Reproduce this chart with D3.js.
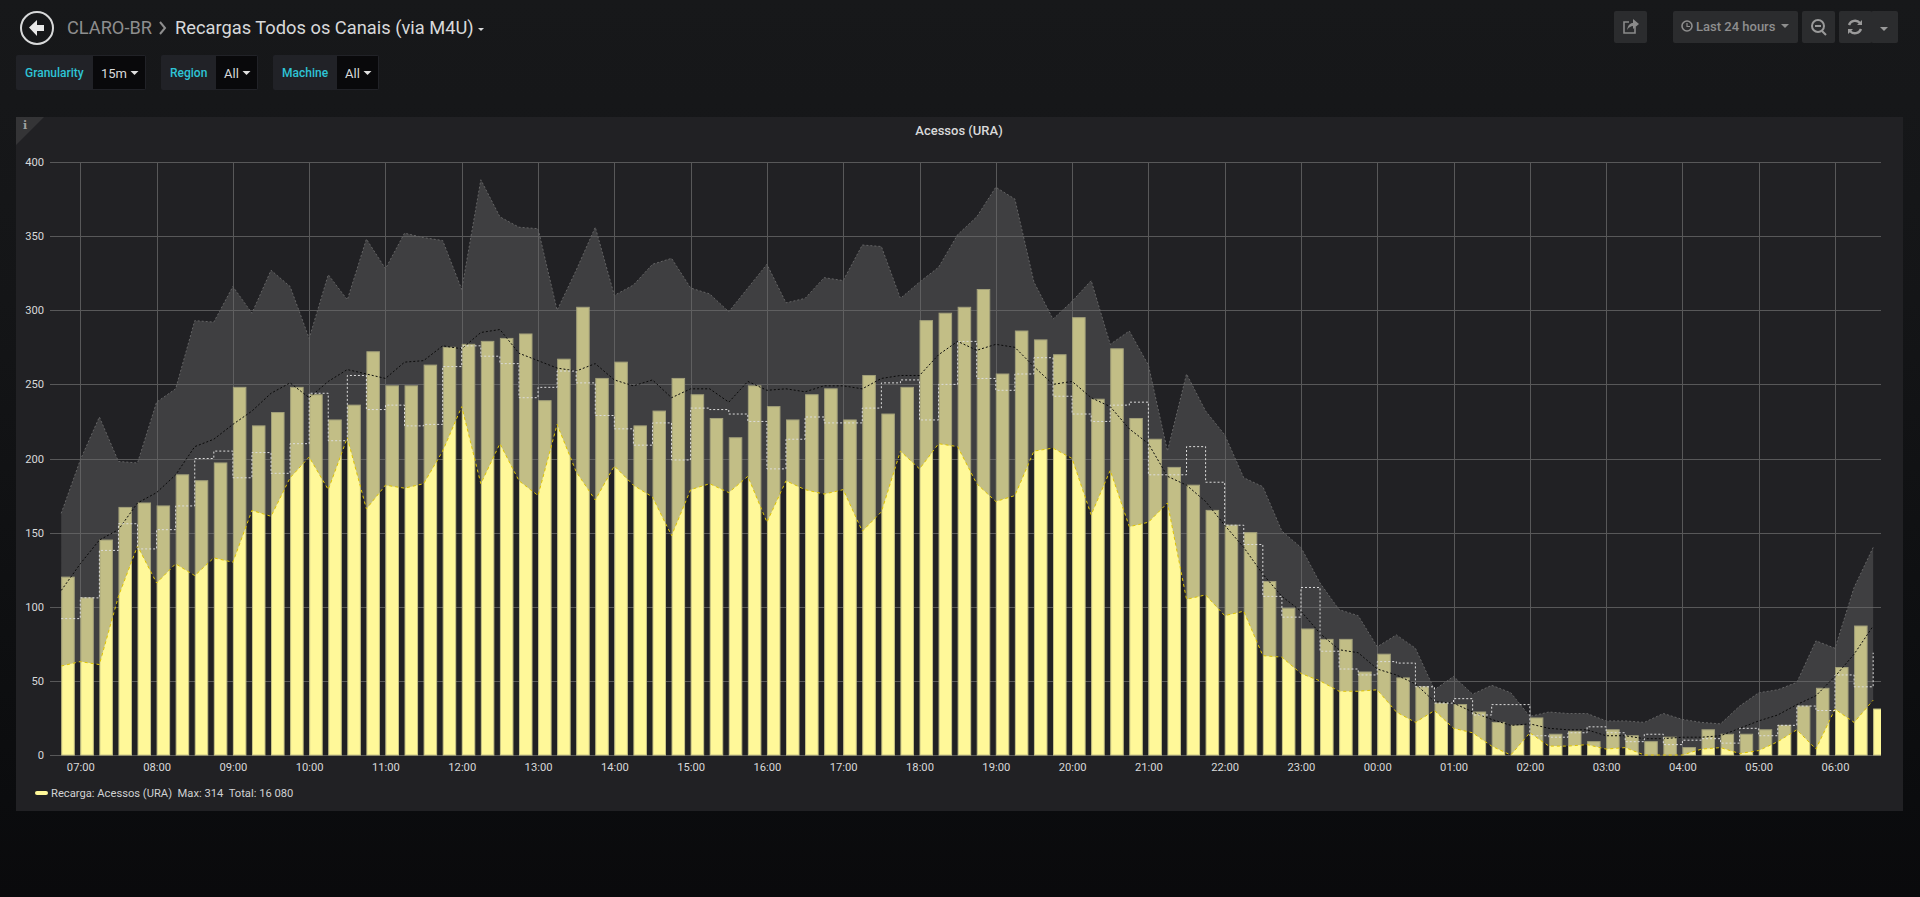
<!doctype html>
<html>
  <head>
    <meta charset="utf-8">
    <title>Recargas Todos os Canais (via M4U)</title>
    <script src="https://cdnjs.cloudflare.com/ajax/libs/d3/7.8.5/d3.min.js"></script>
    <style>
      html, body { margin: 0; height: 100%; overflow: hidden; }
      body { background: linear-gradient(#17181a 0, #141517 300px, #0b0c0e 800px, #0a0a0c 100%); }
      svg { display: block; font-family: Roboto, sans-serif; }
      .tick text { font-size: 11.2px; fill: #d8d9da; font-family: Roboto, sans-serif; }
      .grid path { display: none; }
      .grid line { stroke: #585859; stroke-width: 1; shape-rendering: crispEdges; }
    </style>
  </head>
  <body>
    <div id="chart"></div>
    <script>
      // 15 minute samples, first one at 06:45
      const barValues = [120,106,145,167,170,168,189,185,197,248,222,231,248,243,226,236,272,249,249,263,275,277,279,281,284,239,267,302,254,265,222,232,254,243,227,214,249,235,226,243,247,226,256,230,248,293,298,302,314,257,286,280,270,295,240,274,227,213,194,182,165,155,150,117,99,85,78,78,56,68,52,46,35,34,29,22,20,25,14,16,9,17,13,9,12,5,17,14,14,17,20,33,45,59,87,31];
      const lowerValues = [60,63,61,107,141,116,129,121,133,130,165,161,187,201,179,214,166,182,180,183,205,235,183,210,185,175,223,191,172,195,182,174,148,179,183,177,188,157,185,179,176,179,151,164,205,193,210,208,183,171,175,205,207,200,162,192,154,157,170,105,108,94,97,67,66,55,50,43,43,44,29,22,30,18,15,6,0,15,6,6,7,4,5,0,0,0,4,5,1,3,9,17,4,31,22,37];
      const upperValues = [163,199,228,198,197,238,247,293,292,316,298,327,316,281,324,307,348,328,352,349,347,314,388,363,356,355,300,327,356,310,317,331,335,315,311,299,315,331,305,308,322,320,344,343,308,319,329,351,363,383,375,319,294,306,320,277,286,263,205,257,232,216,187,181,151,140,116,98,94,73,81,72,44,53,41,47,42,26,29,28,28,23,23,22,28,24,22,21,33,42,44,49,77,72,113,140];
      const meanValues = [111,129,145,152,170,177,189,208,213,223,232,244,251,241,252,260,257,254,265,266,276,274,285,287,271,266,261,259,264,253,249,253,241,247,247,238,252,246,247,245,249,249,247,254,256,256,270,279,273,277,275,262,250,252,241,235,220,210,188,182,171,155,140,122,107,97,82,71,69,58,54,48,36,35,29,24,20,21,18,17,17,13,13,11,11,12,12,13,18,23,27,34,40,53,68,87];
      const stepValues = [92,106,138,156,139,152,168,200,205,187,204,190,210,244,212,256,233,236,222,223,262,276,269,264,241,248,259,251,229,220,209,224,199,234,233,230,225,193,213,228,224,224,234,251,253,226,250,279,254,246,257,268,242,230,225,236,238,189,189,208,184,155,142,107,93,113,70,58,54,63,62,46,35,38,27,34,34,13,12,15,19,15,9,14,7,10,11,8,18,13,20,33,30,54,46,69];
      const yTicks = [0,50,100,150,200,250,300,350,400];

      const firstSample = new Date(2018, 0, 1, 6, 45);
      const times = barValues.map((d, i) => d3.timeMinute.offset(firstSample, i * 15));

      const svg = d3.select('#chart').append('svg').attr('width', 1920).attr('height', 897);

      // panel
      svg.append('rect').attr('x', 16).attr('y', 117).attr('width', 1887).attr('height', 694).attr('fill', '#212124');
      svg.append('path').attr('d', 'M16,117H44L16,145Z').attr('fill', '#343436');
      svg.append('text').attr('x', 25).attr('y', 129).attr('text-anchor', 'middle')
        .style('font', 'bold 11px "DejaVu Serif"').attr('fill', '#a0a0a0').text('i');
      svg.append('text').attr('x', 959).attr('y', 135).attr('text-anchor', 'middle')
        .style('font', '500 13px Roboto').attr('fill', '#d8d9da').text('Acessos (URA)');

      // scales: the window is exactly 24 h wide
      const x = d3.scaleTime()
        .domain([new Date(2018, 0, 1, 6, 36, 10), new Date(2018, 0, 2, 6, 36, 10)])
        .range([50, 1881]);
      const y = d3.scaleLinear().domain([0, 400]).range([755, 162]);

      svg.append('clipPath').attr('id', 'plot').append('rect')
        .attr('x', 50).attr('y', 150).attr('width', 1831).attr('height', 606);

      // grid + axes
      const xAxis = d3.axisBottom(x)
        .ticks(d3.timeHour.every(1))
        .tickFormat(d3.timeFormat('%H:%M'))
        .tickSize(-593).tickPadding(8);
      svg.append('g').attr('class', 'grid').attr('transform', 'translate(0,755)').call(xAxis);

      const yAxis = d3.axisLeft(y).tickValues(yTicks).tickSize(-1831).tickPadding(6);
      svg.append('g').attr('class', 'grid').attr('transform', 'translate(50,0)').call(yAxis);

      const plot = svg.append('g').attr('clip-path', 'url(#plot)');

      // bars
      plot.selectAll('rect.bar').data(barValues).join('rect')
        .attr('class', 'bar')
        .attr('x', (d, i) => x(times[i]) + 0.5)
        .attr('width', (d, i) => x(d3.timeSecond.offset(times[i], 600)) - x(times[i]) - 0.2)
        .attr('y', d => y(d))
        .attr('height', d => y(0) - y(d))
        .attr('fill', '#fff899')
        .attr('stroke', '#c8c484')
        .attr('stroke-width', 1);

      // band between lower and upper
      const band = d3.area()
        .x((d, i) => x(times[i]))
        .y0((d, i) => y(lowerValues[i]))
        .y1((d, i) => y(upperValues[i]));
      plot.append('path').datum(barValues).attr('d', band)
        .attr('fill', '#6c6c6c').attr('fill-opacity', 0.41);

      const lineOf = values => d3.line().x((d, i) => x(times[i])).y(d => y(d))(values);

      plot.append('path').attr('d', lineOf(upperValues))
        .attr('fill', 'none').attr('stroke', '#646465').attr('stroke-dasharray', '2 2');
      plot.append('path').attr('d', lineOf(lowerValues))
        .attr('fill', 'none').attr('stroke', '#e0c400').attr('stroke-dasharray', '3 3');
      plot.append('path').attr('d', lineOf(meanValues))
        .attr('fill', 'none').attr('stroke', '#0a0a0a').attr('stroke-dasharray', '2 2');
      plot.append('path')
        .attr('d', d3.line().x((d, i) => x(times[i])).y(d => y(d)).curve(d3.curveStepAfter)(stepValues))
        .attr('fill', 'none').attr('stroke', '#dcdcdc').attr('stroke-dasharray', '2 2');

      // legend
      svg.append('line').attr('x1', 37).attr('x2', 46).attr('y1', 793).attr('y2', 793)
        .attr('stroke', '#fff899').attr('stroke-width', 4).attr('stroke-linecap', 'round');
      svg.append('text').attr('x', 51).attr('y', 797).style('font', '11.2px Roboto').attr('fill', '#d0d1d2')
        .style('white-space', 'pre').text('Recarga: Acessos (URA)  Max: 314  Total: 16 080');

      // header
      svg.append('circle').attr('cx', 37).attr('cy', 28).attr('r', 16)
        .attr('fill', 'none').attr('stroke', '#d8d9da').attr('stroke-width', 2);
      svg.append('path').attr('d', 'M29,27.5L37,20V25H44V31H37V36Z').attr('fill', '#e8e8e8');
      svg.append('text').attr('x', 67).attr('y', 34).style('font', '18.2px Roboto').attr('fill', '#8e8e8e').text('CLARO-BR');
      svg.append('path').attr('d', 'M160,22L165,28L160,34').attr('fill', 'none').attr('stroke', '#8e8e8e').attr('stroke-width', 2);
      svg.append('text').attr('x', 175).attr('y', 34).style('font', '18.3px Roboto').attr('fill', '#d8d9da').text('Recargas Todos os Canais (via M4U)');
      svg.append('path').attr('d', 'M478,28H484L481,31Z').attr('fill', '#d8d9da');

      // template variables
      const variables = [
        { label: 'Granularity', value: '15m', left: 16, split: 93, right: 146 },
        { label: 'Region', value: 'All', left: 161, split: 216, right: 258 },
        { label: 'Machine', value: 'All', left: 273, split: 337, right: 379 }
      ];
      const vars = svg.selectAll('g.var').data(variables).join('g').attr('class', 'var');
      vars.append('rect').attr('x', d => d.left).attr('y', 55).attr('width', d => d.right - d.left).attr('height', 35)
        .attr('rx', 2).attr('fill', '#212227');
      vars.append('rect').attr('x', d => d.split).attr('y', 56).attr('width', d => d.right - d.split - 1).attr('height', 33)
        .attr('fill', '#09090b');
      vars.append('text').attr('x', d => d.left + 9).attr('y', 77).style('font', '500 12px Roboto')
        .attr('fill', '#2ec4d6').text(d => d.label);
      vars.append('text').attr('x', d => d.split + 8).attr('y', 78).style('font', '13px Roboto')
        .attr('fill', '#d8d9da').text(d => d.value);
      vars.append('path').attr('d', d => {
        const cx = d.right - 11.5;
        return 'M' + (cx - 4) + ',71H' + (cx + 4) + 'L' + cx + ',75Z';
      }).attr('fill', '#e0e0e0');

      // toolbar
      const buttons = [[1614, 33], [1673, 125], [1802, 33], [1839, 33], [1871, 27]];
      svg.selectAll('rect.btn').data(buttons).join('rect').attr('class', 'btn')
        .attr('x', d => d[0]).attr('y', 11).attr('width', d => d[1]).attr('height', 32)
        .attr('rx', 2).attr('fill', '#2b2c2e');
      svg.append('path').attr('d', 'M1635,27V33H1624V22H1629').attr('fill', 'none').attr('stroke', '#8a8a8a').attr('stroke-width', 1.6);
      svg.append('path').attr('d', 'M1627,30C1628,25 1630,23 1633,23V19L1639,24L1633,29V26C1631,26 1629,27 1627,30Z').attr('fill', '#8a8a8a');
      svg.append('circle').attr('cx', 1687).attr('cy', 26).attr('r', 5).attr('fill', 'none').attr('stroke', '#8e8e8e').attr('stroke-width', 1.6);
      svg.append('path').attr('d', 'M1687,23V26.5H1690').attr('fill', 'none').attr('stroke', '#8e8e8e').attr('stroke-width', 1.2);
      svg.append('text').attr('x', 1696).attr('y', 31).style('font', '500 13px Roboto').attr('fill', '#8e8e8e').text('Last 24 hours');
      svg.append('path').attr('d', 'M1781,24H1789L1785,28Z').attr('fill', '#8e8e8e');
      svg.append('circle').attr('cx', 1818).attr('cy', 26).attr('r', 6).attr('fill', 'none').attr('stroke', '#9a9a9a').attr('stroke-width', 2);
      svg.append('path').attr('d', 'M1815,26H1821M1822,31L1826,35').attr('fill', 'none').attr('stroke', '#9a9a9a').attr('stroke-width', 2);
      svg.append('path').attr('d', 'M1849,25A6.5,6.5 0 0 1 1860,23M1861,29A6.5,6.5 0 0 1 1850,31').attr('fill', 'none').attr('stroke', '#9a9a9a').attr('stroke-width', 2.4);
      svg.append('path').attr('d', 'M1857,25H1862V20ZM1853,29H1848V34Z').attr('fill', '#9a9a9a');
      svg.append('path').attr('d', 'M1880,27H1888L1884,31Z').attr('fill', '#9a9a9a');
    </script>
  </body>
</html>
